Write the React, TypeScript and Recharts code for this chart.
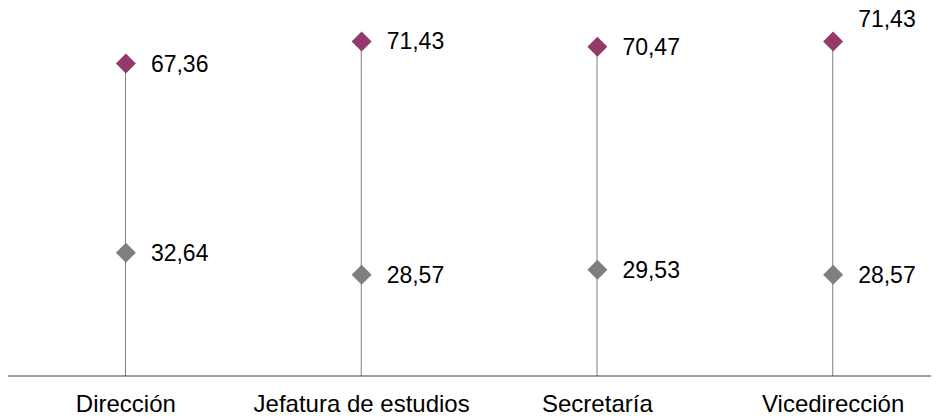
import React from "react";
import {
  ComposedChart,
  Bar,
  Line,
  XAxis,
  YAxis,
  LabelList,
} from "recharts";

const categorias = ["Dirección", "Jefatura de estudios", "Secretaría", "Vicedirección"];
const serieAlta = [67.36, 71.43, 70.47, 71.43];
const serieBaja = [32.64, 28.57, 29.53, 28.57];

const data = categorias.map((name, i) => ({
  name,
  alta: serieAlta[i],
  baja: serieBaja[i],
}));

const PURPLE = "#943a6b";
const GRAY = "#7f7f7f";
const FONT = "'Liberation Sans', Arial, sans-serif";

const fmt = (v: number) => v.toFixed(2).replace(".", ",");

function diamond(color: string) {
  return (props: any) => {
    const { cx, cy, index } = props;
    if (cx == null || cy == null) return <g key={index} />;
    const r = 10;
    return (
      <polygon
        key={index}
        points={`${cx},${cy - r} ${cx + r},${cy} ${cx},${cy + r} ${cx - r},${cy}`}
        fill={color}
      />
    );
  };
}

// the last top label sits a bit higher, like in the original
function valueLabel(lift: number[]) {
  return (props: any) => {
    const { x, y, value, index } = props;
    const dy = lift[index] || 0;
    return (
      <text
        x={x + 25}
        y={y + dy}
        dominantBaseline="central"
        fontSize={23}
        fill="#000"
        fontFamily={FONT}
      >
        {fmt(value)}
      </text>
    );
  };
}

export default function App() {
  return (
    <div style={{ width: 931, height: 419, overflow: "hidden", marginTop: -8 }}>
      <ComposedChart
        width={943}
        height={419}
        data={data}
        margin={{ top: 22, right: 0, left: 0, bottom: 0 }}
        style={{ fontFamily: FONT }}
      >
        <XAxis
          dataKey="name"
          interval={0}
          height={43}
          tickLine={false}
          tickSize={0}
          tickMargin={19}
          axisLine={{ stroke: "#404040", strokeWidth: 1 }}
          tick={{ fill: "#000", fontSize: 24 }}
        />
        <YAxis hide domain={[10, 75]} type="number" />
        <Bar dataKey="alta" barSize={1} fill={GRAY} isAnimationActive={false} />
        <Line
          dataKey="baja"
          stroke="none"
          dot={diamond(GRAY)}
          activeDot={false}
          isAnimationActive={false}
        >
          <LabelList dataKey="baja" content={valueLabel([0, 0, 0, 0])} />
        </Line>
        <Line
          dataKey="alta"
          stroke="none"
          dot={diamond(PURPLE)}
          activeDot={false}
          isAnimationActive={false}
        >
          <LabelList dataKey="alta" content={valueLabel([0, 0, 0, -22])} />
        </Line>
      </ComposedChart>
    </div>
  );
}
